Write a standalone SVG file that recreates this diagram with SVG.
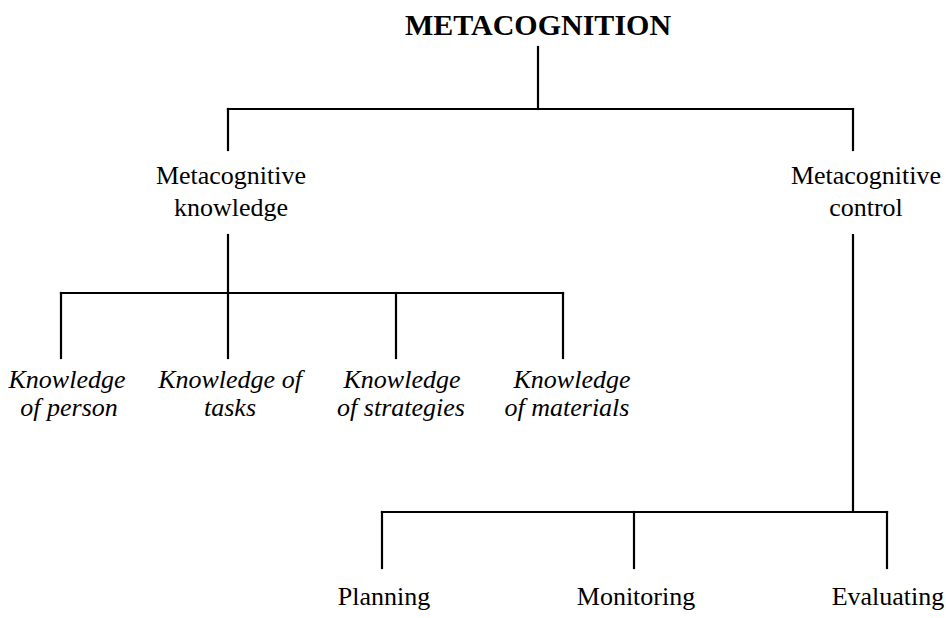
<svg xmlns="http://www.w3.org/2000/svg" width="946" height="618" viewBox="0 0 946 618">
<style>
.t{font-family:"Liberation Serif","Times New Roman",serif;font-size:26px;fill:#000;text-anchor:middle}
.i{font-style:italic}
.h{font-weight:bold;font-size:30px}
.c line{stroke:#000;stroke-width:2.2;stroke-linecap:square}
</style>
<rect width="946" height="618" fill="#fff"/>
<g class="c" id="connectors">
<line x1="538" y1="47" x2="538" y2="109"/>
<line x1="228" y1="109" x2="853" y2="109"/>
<line x1="228" y1="109" x2="228" y2="150"/>
<line x1="853" y1="109" x2="853" y2="150"/>
<line x1="228" y1="235" x2="228" y2="358"/>
<line x1="61" y1="293" x2="563" y2="293"/>
<line x1="61" y1="293" x2="61" y2="358"/>
<line x1="396" y1="293" x2="396" y2="358"/>
<line x1="563" y1="293" x2="563" y2="358"/>
<line x1="853" y1="235" x2="853" y2="512"/>
<line x1="382" y1="512" x2="887" y2="512"/>
<line x1="382" y1="512" x2="382" y2="568"/>
<line x1="634" y1="512" x2="634" y2="568"/>
<line x1="887" y1="512" x2="887" y2="568"/>
</g>
<g id="metacognition"><text class="t h" x="538" y="35">METACOGNITION</text></g>
<g id="mk"><text class="t" x="231" y="184">Metacognitive</text><text class="t" x="231" y="216">knowledge</text></g>
<g id="mc"><text class="t" x="866" y="184">Metacognitive</text><text class="t" x="866" y="216">control</text></g>
<g id="kp"><text class="t i" x="67" y="388">Knowledge</text><text class="t i" x="69" y="416">of person</text></g>
<g id="kt"><text class="t i" x="230" y="388">Knowledge of</text><text class="t i" x="230" y="416">tasks</text></g>
<g id="ks"><text class="t i" x="402" y="388">Knowledge</text><text class="t i" x="401" y="416">of strategies</text></g>
<g id="km"><text class="t i" x="572" y="388">Knowledge</text><text class="t i" x="567" y="416">of materials</text></g>
<g id="planning"><text class="t" x="384" y="605">Planning</text></g>
<g id="monitoring"><text class="t" x="636" y="605">Monitoring</text></g>
<g id="evaluating"><text class="t" x="888" y="605">Evaluating</text></g>
</svg>
